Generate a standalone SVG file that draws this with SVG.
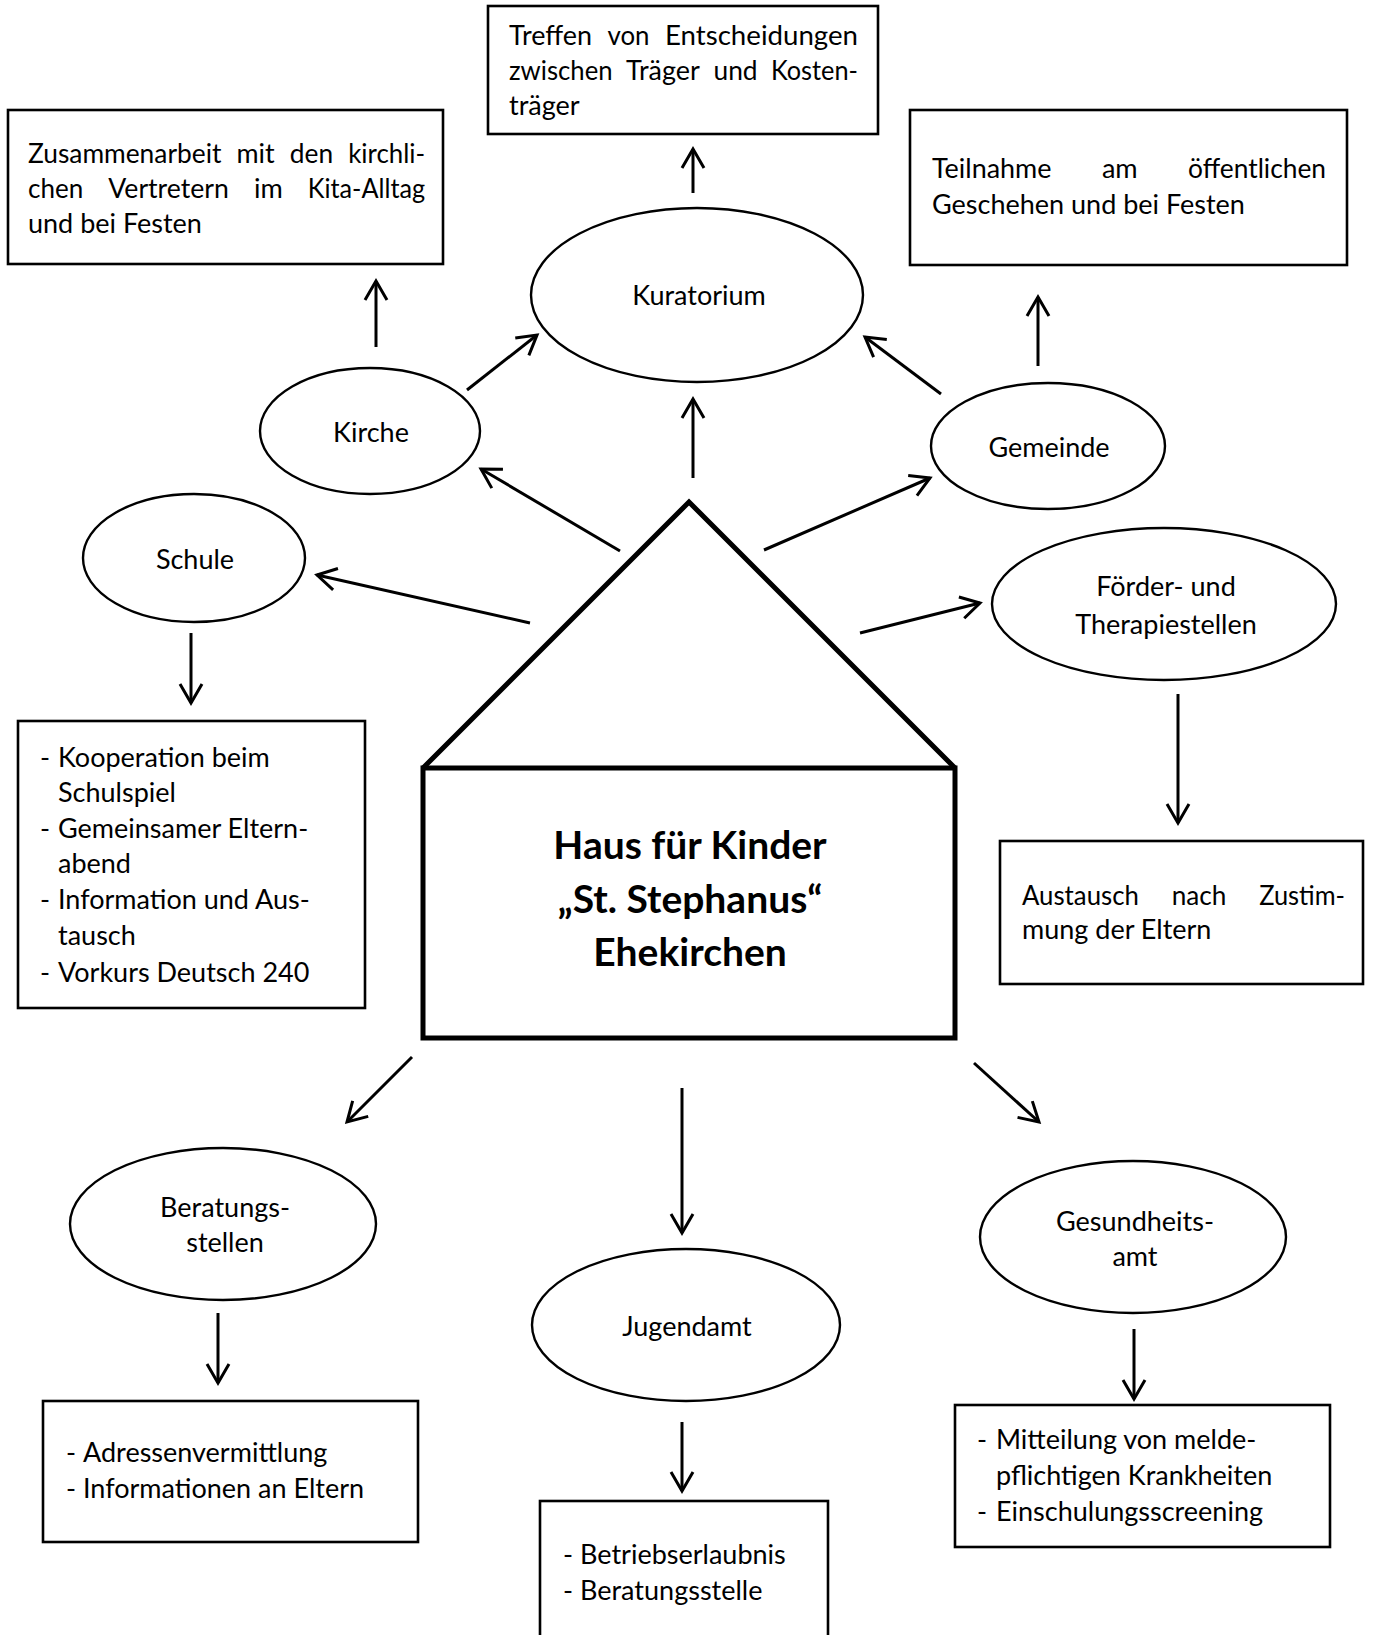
<svg xmlns="http://www.w3.org/2000/svg" width="1373" height="1635" viewBox="0 0 1373 1635">
<style>
  .bg{fill:#fff}
  .box{fill:#fff;stroke:#000;stroke-width:2.6}
  .ell{fill:#fff;stroke:#000;stroke-width:2.4}
  .house{fill:#fff;stroke:#000;stroke-width:5;stroke-linejoin:miter}
  .t{font-family:Lato,"Liberation Sans",sans-serif;font-size:27px;fill:#000}
  .c{text-anchor:middle}
  .b{font-family:Lato,"Liberation Sans",sans-serif;font-size:39px;font-weight:bold;fill:#000;text-anchor:middle}
  .con line{stroke:#000;stroke-width:3;fill:none;marker-end:url(#ah)}
</style>
<defs>
  <marker id="ah" markerUnits="userSpaceOnUse" markerWidth="26" markerHeight="28" refX="22" refY="13" orient="auto" viewBox="0 0 26 28">
    <path d="M3,2 L22,13 L3,24" fill="none" stroke="#000" stroke-width="3" stroke-linejoin="miter"/>
  </marker>
</defs>
<rect class="bg" x="0" y="0" width="1373" height="1635"/>

<g id="box-treffen">
  <rect class="box" x="488" y="6" width="390" height="128"/>
  <text class="t" x="509" y="45" textLength="83" lengthAdjust="spacingAndGlyphs">Treffen</text>
  <text class="t" x="607.5" y="45" textLength="42" lengthAdjust="spacingAndGlyphs">von</text>
  <text class="t" x="665" y="45" textLength="193" lengthAdjust="spacingAndGlyphs">Entscheidungen</text>
  <text class="t" x="509" y="80" textLength="103.6" lengthAdjust="spacingAndGlyphs">zwischen</text>
  <text class="t" x="626" y="80" textLength="73.7" lengthAdjust="spacingAndGlyphs">Träger</text>
  <text class="t" x="713.5" y="80" textLength="44.1" lengthAdjust="spacingAndGlyphs">und</text>
  <text class="t" x="771" y="80" textLength="86.9" lengthAdjust="spacingAndGlyphs">Kosten-</text>
  <text class="t" x="509" y="115">träger</text>
</g>

<g id="box-zusammenarbeit">
  <rect class="box" x="8" y="110" width="435" height="154"/>
  <text class="t" x="28" y="163" textLength="193.4" lengthAdjust="spacingAndGlyphs">Zusammenarbeit</text>
  <text class="t" x="236.5" y="163" textLength="38.2" lengthAdjust="spacingAndGlyphs">mit</text>
  <text class="t" x="289.8" y="163" textLength="43.3" lengthAdjust="spacingAndGlyphs">den</text>
  <text class="t" x="348.2" y="163" textLength="76.9" lengthAdjust="spacingAndGlyphs">kirchli-</text>
  <text class="t" x="28" y="198" textLength="55.2" lengthAdjust="spacingAndGlyphs">chen</text>
  <text class="t" x="108.3" y="198" textLength="120.5" lengthAdjust="spacingAndGlyphs">Vertretern</text>
  <text class="t" x="253.9" y="198" textLength="28.8" lengthAdjust="spacingAndGlyphs">im</text>
  <text class="t" x="307.8" y="198" textLength="117.3" lengthAdjust="spacingAndGlyphs">Kita-Alltag</text>
  <text class="t" x="28" y="233">und bei Festen</text>
</g>

<g id="box-teilnahme">
  <rect class="box" x="910" y="110" width="437" height="155"/>
  <text class="t" x="932" y="178" textLength="119.5" lengthAdjust="spacingAndGlyphs">Teilnahme</text>
  <text class="t" x="1101.9" y="178" textLength="35.8" lengthAdjust="spacingAndGlyphs">am</text>
  <text class="t" x="1188.1" y="178" textLength="137.9" lengthAdjust="spacingAndGlyphs">öffentlichen</text>
  <text class="t" x="932" y="214">Geschehen und bei Festen</text>
</g>

<g id="kuratorium">
  <ellipse class="ell" cx="697" cy="295" rx="166" ry="87"/>
  <text class="t c" x="699" y="305">Kuratorium</text>
</g>

<g id="kirche">
  <ellipse class="ell" cx="370" cy="431" rx="110" ry="63"/>
  <text class="t c" x="371" y="442">Kirche</text>
</g>

<g id="gemeinde">
  <ellipse class="ell" cx="1048" cy="446" rx="117" ry="63"/>
  <text class="t c" x="1049" y="457">Gemeinde</text>
</g>

<g id="schule">
  <ellipse class="ell" cx="194" cy="558" rx="111" ry="64"/>
  <text class="t c" x="195" y="569">Schule</text>
</g>

<g id="foerder">
  <ellipse class="ell" cx="1164" cy="604" rx="172" ry="76"/>
  <text class="t c" x="1166" y="596">Förder- und</text>
  <text class="t c" x="1166" y="634">Therapiestellen</text>
</g>

<g id="box-schule">
  <rect class="box" x="18" y="721" width="347" height="287"/>
  <text class="t" x="40" y="767">-</text><text class="t" x="58" y="767">Kooperation beim</text>
  <text class="t" x="58" y="802">Schulspiel</text>
  <text class="t" x="40" y="838">-</text><text class="t" x="58" y="838">Gemeinsamer Eltern-</text>
  <text class="t" x="58" y="873">abend</text>
  <text class="t" x="40" y="909">-</text><text class="t" x="58" y="909">Information und Aus-</text>
  <text class="t" x="58" y="945">tausch</text>
  <text class="t" x="40" y="982">-</text><text class="t" x="58" y="982">Vorkurs Deutsch 240</text>
</g>

<g id="box-austausch">
  <rect class="box" x="1000" y="841" width="363" height="143"/>
  <text class="t" x="1022" y="905" textLength="116.8" lengthAdjust="spacingAndGlyphs">Austausch</text>
  <text class="t" x="1171.7" y="905" textLength="54.7" lengthAdjust="spacingAndGlyphs">nach</text>
  <text class="t" x="1259.3" y="905" textLength="85.7" lengthAdjust="spacingAndGlyphs">Zustim-</text>
  <text class="t" x="1022" y="939">mung der Eltern</text>
</g>

<g id="haus">
  <path class="house" d="M423,768 L689,502 L955,768"/>
  <rect class="house" x="423" y="768" width="532" height="270"/>
  <text class="b" x="690" y="859">Haus für Kinder</text>
  <text class="b" x="690" y="913">„St. Stephanus“</text>
  <text class="b" x="690" y="966">Ehekirchen</text>
</g>

<g id="beratungsstellen">
  <ellipse class="ell" cx="223" cy="1224" rx="153" ry="76"/>
  <text class="t c" x="225" y="1217">Beratungs-</text>
  <text class="t c" x="225" y="1252">stellen</text>
</g>

<g id="jugendamt">
  <ellipse class="ell" cx="686" cy="1325" rx="154" ry="76"/>
  <text class="t c" x="687" y="1336">Jugendamt</text>
</g>

<g id="gesundheitsamt">
  <ellipse class="ell" cx="1133" cy="1237" rx="153" ry="76"/>
  <text class="t c" x="1135" y="1231">Gesundheits-</text>
  <text class="t c" x="1135" y="1266">amt</text>
</g>

<g id="box-beratung">
  <rect class="box" x="43" y="1401" width="375" height="141"/>
  <text class="t" x="66" y="1462">-</text><text class="t" x="83" y="1462">Adressenvermittlung</text>
  <text class="t" x="66" y="1498">-</text><text class="t" x="83" y="1498">Informationen an Eltern</text>
</g>

<g id="box-jugendamt">
  <rect class="box" x="540" y="1501" width="288" height="160"/>
  <text class="t" x="563" y="1564">-</text><text class="t" x="580" y="1564">Betriebserlaubnis</text>
  <text class="t" x="563" y="1600">-</text><text class="t" x="580" y="1600">Beratungsstelle</text>
</g>

<g id="box-gesundheit">
  <rect class="box" x="955" y="1405" width="375" height="142"/>
  <text class="t" x="977" y="1449">-</text><text class="t" x="996" y="1449">Mitteilung von melde-</text>
  <text class="t" x="996" y="1485">pflichtigen Krankheiten</text>
  <text class="t" x="977" y="1521">-</text><text class="t" x="996" y="1521">Einschulungsscreening</text>
</g>

<g id="connectors" class="con">
  <line x1="376" y1="347" x2="376" y2="281"/>
  <line x1="467" y1="390" x2="537" y2="335"/>
  <line x1="693" y1="193" x2="693" y2="149"/>
  <line x1="693" y1="478" x2="693" y2="399"/>
  <line x1="941" y1="394" x2="865" y2="337"/>
  <line x1="1038" y1="366" x2="1038" y2="297"/>
  <line x1="764" y1="550" x2="930" y2="478"/>
  <line x1="620" y1="551" x2="481" y2="469"/>
  <line x1="530" y1="623" x2="317" y2="575"/>
  <line x1="191" y1="633" x2="191" y2="703"/>
  <line x1="860" y1="633" x2="980" y2="603"/>
  <line x1="1178" y1="694" x2="1178" y2="823"/>
  <line x1="412" y1="1057" x2="347" y2="1122"/>
  <line x1="218" y1="1313" x2="218" y2="1383"/>
  <line x1="682" y1="1088" x2="682" y2="1233"/>
  <line x1="682" y1="1422" x2="682" y2="1491"/>
  <line x1="974" y1="1063" x2="1039" y2="1122"/>
  <line x1="1134" y1="1329" x2="1134" y2="1399"/>
</g>
</svg>
